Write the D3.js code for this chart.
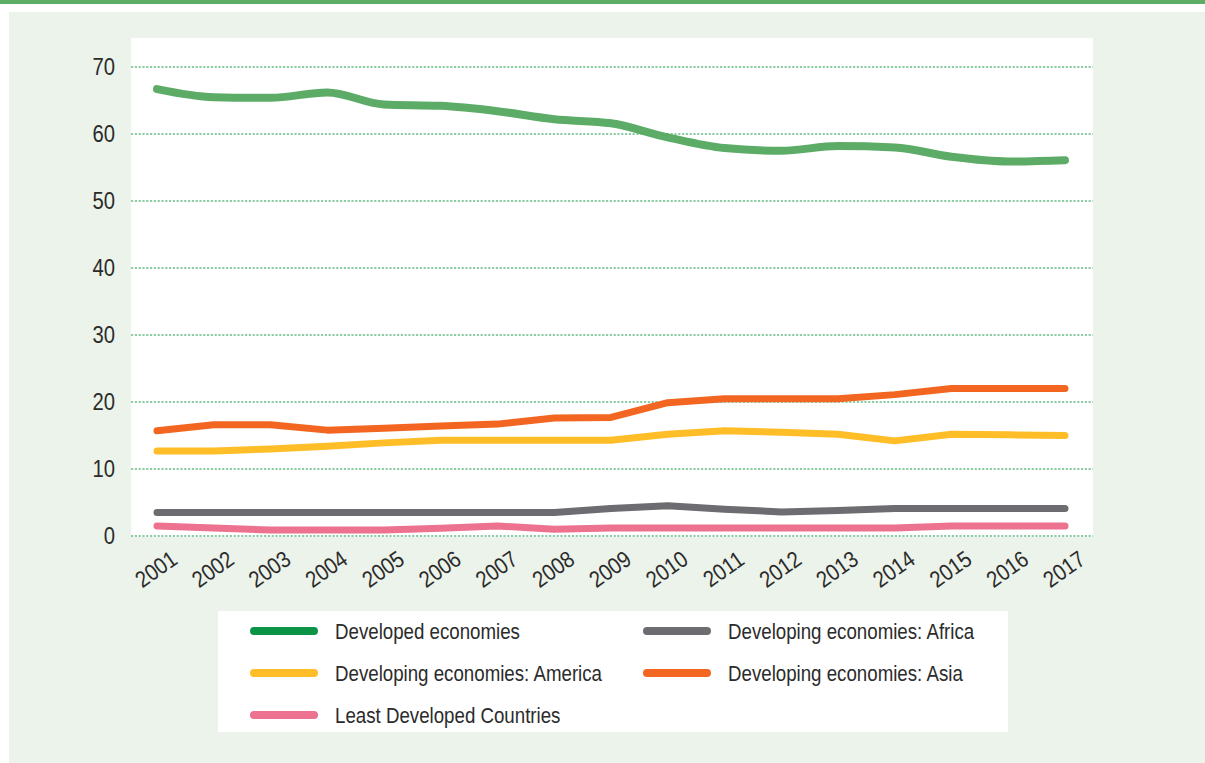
<!DOCTYPE html>
<html>
<head>
<meta charset="utf-8">
<script src="https://cdn.jsdelivr.net/npm/d3@7"></script>
<style>
  html, body { margin: 0; padding: 0; background: #ffffff; }
  svg { display: block; }
  text { font-family: "Liberation Sans", Arial, sans-serif; fill: #2b2b2b; }
</style>
</head>
<body>
<svg id="chart" width="1205" height="763"></svg>
<script>
// ---- data ----
const years = ["2001","2002","2003","2004","2005","2006","2007","2008","2009","2010","2011","2012","2013","2014","2015","2016","2017"];
const developed = [66.7,65.5,65.4,66.2,64.4,64.2,63.4,62.2,61.6,59.5,57.9,57.5,58.2,58.0,56.6,55.9,56.1];
const africa    = [3.5,3.5,3.5,3.5,3.5,3.5,3.5,3.5,4.1,4.5,4.0,3.6,3.8,4.1,4.1,4.1,4.1];
const america   = [12.7,12.7,13.0,13.4,13.9,14.3,14.3,14.3,14.3,15.2,15.7,15.5,15.2,14.2,15.2,15.1,15.0];
const asia      = [15.7,16.6,16.6,15.8,16.1,16.4,16.7,17.6,17.7,19.9,20.5,20.5,20.5,21.1,22.0,22.0,22.0];
const ldc       = [1.5,1.2,0.9,0.9,0.9,1.15,1.5,1.0,1.2,1.2,1.2,1.2,1.2,1.2,1.5,1.5,1.5];
const seriesNames = ["Developed economies","Developing economies: Africa","Developing economies: America","Developing economies: Asia","Least Developed Countries"];
const yTicks = [0,10,20,30,40,50,60,70];

// ---- styles ----
const lineColors = ["#5cac67","#6c6c71","#ffbd27","#f26622","#ec7290"];
const legendColors = ["#0b9445","#6c6c71","#ffbd27","#f26622","#ec7290"];

const svg = d3.select("#chart");

// background frame
svg.append("rect").attr("x",0).attr("y",0).attr("width",1205).attr("height",4).attr("fill","#5dad67");
svg.append("rect").attr("x",9).attr("y",12).attr("width",1196).attr("height",751).attr("fill","#ecf3ea");

const plot = {left:131, right:1093, top:38, bottom:537};
svg.append("rect").attr("x",plot.left).attr("y",plot.top)
   .attr("width",plot.right-plot.left).attr("height",plot.bottom-plot.top).attr("fill","#ffffff");

const x = d3.scalePoint().domain(years).range([157,1065]);
const y = d3.scaleLinear().domain([0,70]).range([536,67]);

// grid
const grid = svg.append("g");
grid.selectAll("line").data(yTicks).join("line")
  .attr("x1",plot.left).attr("x2",plot.right)
  .attr("y1",d=>y(d)).attr("y2",d=>y(d))
  .attr("stroke","#1d9a4c").attr("stroke-width",1.2)
  .attr("stroke-dasharray","2.2,1.6");

// y axis
const yAxis = d3.axisLeft(y).tickValues(yTicks).tickSize(0).tickPadding(0);
const gy = svg.append("g").attr("transform","translate(115,0)").call(yAxis);
gy.select(".domain").remove();
gy.selectAll("text").attr("x",0).attr("font-size",23).attr("fill","#2b2b2b")
  .attr("transform","scale(0.88,1)")
  .style("font-family",'"Liberation Sans", Arial, sans-serif');

// x axis
const xAxis = d3.axisBottom(x).tickSize(0).tickPadding(0);
const gx = svg.append("g").call(xAxis);
gx.select(".domain").remove();
gx.selectAll(".tick").attr("transform", d => `translate(${x(d)-1},569)`);
gx.selectAll("text")
  .attr("y",0).attr("dy","0.35em")
  .attr("text-anchor","middle")
  .attr("transform","rotate(-35) scale(0.88,1)")
  .attr("font-size",23).attr("fill","#2b2b2b")
  .style("font-family",'"Liberation Sans", Arial, sans-serif');

// lines
const allSeries = [developed, africa, america, asia, ldc];
const smoothLine = d3.line().x((d,i)=>x(years[i])).y(d=>y(d)).curve(d3.curveMonotoneX);
const straightLine = d3.line().x((d,i)=>x(years[i])).y(d=>y(d)).curve(d3.curveLinear);

const order = [0,2,3,1,4];
order.forEach(k => {
  svg.append("path")
    .attr("d", k===0 ? smoothLine(allSeries[k]) : straightLine(allSeries[k]))
    .attr("fill","none")
    .attr("stroke",lineColors[k])
    .attr("stroke-width", k===0 ? 8 : 7)
    .attr("stroke-linecap","round")
    .attr("stroke-linejoin","round");
});

// legend
svg.append("rect").attr("x",218).attr("y",611).attr("width",790).attr("height",121).attr("fill","#ffffff");
const legendPos = [
  {sx:250, ty:631}, {sx:643, ty:631},
  {sx:250, ty:673}, {sx:643, ty:673},
  {sx:250, ty:715}
];
const lg = svg.append("g");
seriesNames.forEach((name,i) => {
  const p = legendPos[i];
  lg.append("line").attr("x1",p.sx+4).attr("x2",p.sx+64).attr("y1",p.ty).attr("y2",p.ty)
    .attr("stroke",legendColors[i]).attr("stroke-width",8).attr("stroke-linecap","round");
  lg.append("text").attr("x",0).attr("y",0).attr("dy","0.35em")
    .attr("transform",`translate(${p.sx+85},${p.ty}) scale(0.85,1)`)
    .attr("font-size",22).text(name);
});
</script>
</body>
</html>
